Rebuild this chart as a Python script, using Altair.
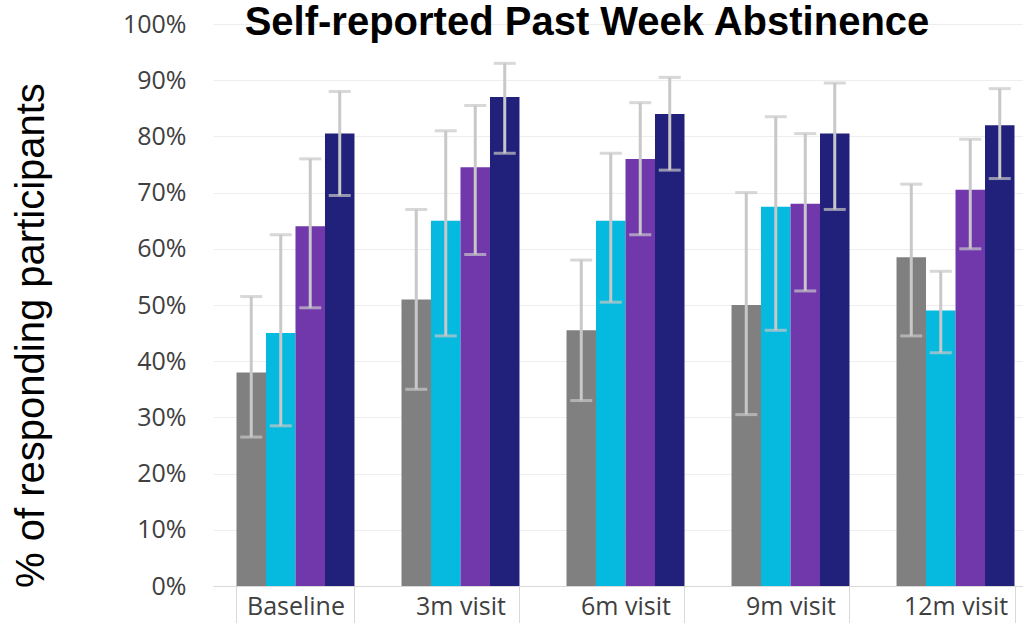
import altair as alt
import pandas as pd

visits = ["Baseline", "3m visit", "6m visit", "9m visit", "12m visit"]
groups = ["Group 1", "Group 2", "Group 3", "Group 4"]
colors = ["#808080", "#06b9de", "#7038ab", "#21207b"]

# values as fractions
g1 = [0.380, 0.510, 0.455, 0.500, 0.585]
g2 = [0.450, 0.650, 0.650, 0.675, 0.490]
g3 = [0.640, 0.745, 0.760, 0.680, 0.705]
g4 = [0.805, 0.870, 0.840, 0.805, 0.820]

g1_lo = [0.265, 0.350, 0.330, 0.305, 0.445]
g1_hi = [0.515, 0.670, 0.580, 0.700, 0.715]
g2_lo = [0.285, 0.445, 0.505, 0.455, 0.415]
g2_hi = [0.625, 0.810, 0.770, 0.835, 0.560]
g3_lo = [0.495, 0.590, 0.625, 0.525, 0.600]
g3_hi = [0.760, 0.855, 0.860, 0.805, 0.795]
g4_lo = [0.695, 0.770, 0.740, 0.670, 0.725]
g4_hi = [0.880, 0.930, 0.905, 0.895, 0.885]

title_text = "Self-reported Past Week Abstinence"

vals = [g1, g2, g3, g4]
los = [g1_lo, g2_lo, g3_lo, g4_lo]
his = [g1_hi, g2_hi, g3_hi, g4_hi]

rows = []
for gi, g in enumerate(groups):
    for vi, v in enumerate(visits):
        rows.append({"visit": v, "group": g, "value": vals[gi][vi],
                     "lo": los[gi][vi], "hi": his[gi][vi]})
df = pd.DataFrame(rows)

x_enc = alt.X(
    "visit:N", sort=visits,
    scale=alt.Scale(domain=visits, range=[0, 825], paddingInner=0.285, paddingOuter=0.1424),
    axis=alt.Axis(title=None, labelAngle=0, labelFont="Open Sans", labelFontSize=25,
                  labelColor="#404040", domainColor="#d9d9d9", tickColor="#d9d9d9",
                  tickSize=37, tickBand="extent", labelPadding=-29, grid=False),
)
xo_enc = alt.XOffset("group:N", sort=groups, scale=alt.Scale(domain=groups))

y_axis = alt.Axis(
    format=".0%", values=[i / 10 for i in range(11)], grid=True, gridColor="#eeeeee",
    domain=False, ticks=False, labelFont="Open Sans", labelFontSize=25,
    labelColor="#404040", labelPadding=27,
    title="% of responding participants", titleFont="Liberation Sans",
    titleFontSize=40, titleFontWeight="normal", titleColor="black",
    titleAngle=270, titleX=-182, titleY=311, titleBaseline="middle", titleAlign="center",
)

base = alt.Chart(df)

bars = base.mark_bar().encode(
    x=x_enc, xOffset=xo_enc,
    y=alt.Y("value:Q", scale=alt.Scale(domain=[0, 1]), axis=y_axis),
    color=alt.Color("group:N", sort=groups, scale=alt.Scale(domain=groups, range=colors), legend=None),
)

rule = base.mark_rule(color="#c8c8c8", strokeWidth=3).encode(
    x=x_enc, xOffset=xo_enc, y="lo:Q", y2="hi:Q",
)
cap_lo = base.mark_tick(color="#c8c8c8", thickness=3, size=22, orient="horizontal").encode(
    x=x_enc, xOffset=xo_enc, y="lo:Q",
)
cap_hi = base.mark_tick(color="#c8c8c8", thickness=3, size=22, orient="horizontal").encode(
    x=x_enc, xOffset=xo_enc, y="hi:Q",
)

title = alt.Chart(pd.DataFrame({"t": [title_text]})).mark_text(
    font="Liberation Sans", fontSize=40, fontWeight="bold", color="black",
    align="center", baseline="alphabetic",
).encode(text="t:N", x=alt.value(374), y=alt.value(11))

chart = alt.layer(bars, rule, cap_lo, cap_hi, title).properties(
    width=810, height=562,
    autosize=alt.AutoSizeParams(type="none"),
    padding={"left": 213, "top": 24, "right": 0, "bottom": 37},
    background="white",
).configure_view(stroke="transparent", strokeWidth=0)

chart.save("out.html", embed_options={"renderer": "svg", "actions": False})
